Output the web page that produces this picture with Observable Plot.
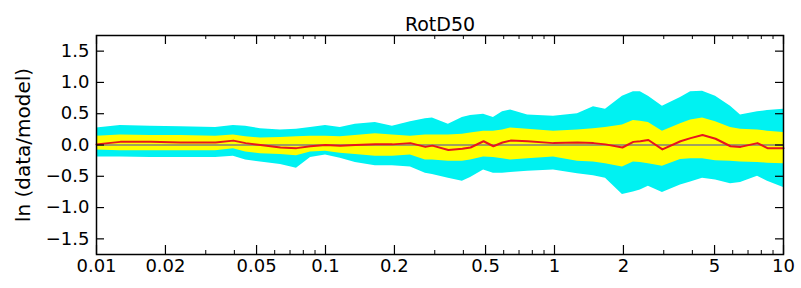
<!DOCTYPE html>
<html>
<head>
<meta charset="utf-8">
<script src="https://cdn.jsdelivr.net/npm/d3@7"></script>
<script src="https://cdn.jsdelivr.net/npm/@observablehq/plot@0.6"></script>
<style>
  html, body { margin: 0; padding: 0; background: #fff; }
  #chart svg { display: block; }
</style>
</head>
<body>
<div id="chart"></div>
<script>
// Period (s)
const period = [0.01, 0.0127, 0.0172, 0.0233, 0.0331, 0.0396, 0.0448, 0.052, 0.0636, 0.0747,
  0.086, 0.1, 0.116, 0.135, 0.165, 0.196, 0.235, 0.273, 0.293, 0.344,
  0.396, 0.43, 0.49, 0.541, 0.593, 0.643, 0.763, 0.99, 1.26, 1.48,
  1.67, 1.98, 2.21, 2.37, 2.57, 2.96, 3.55, 3.93, 4.43, 5.05,
  5.87, 6.49, 7.70, 8.51, 10];
// outer (cyan) band
const cyanTop = [0.27, 0.31, 0.30, 0.29, 0.28, 0.31, 0.30, 0.26, 0.24, 0.25,
  0.28, 0.31, 0.28, 0.33, 0.36, 0.30, 0.37, 0.42, 0.43, 0.33,
  0.44, 0.47, 0.49, 0.44, 0.53, 0.56, 0.48, 0.46, 0.50, 0.61,
  0.57, 0.78, 0.85, 0.85, 0.78, 0.62, 0.76, 0.85, 0.86, 0.78,
  0.62, 0.48, 0.53, 0.55, 0.57];
const cyanBottom = [-0.19, -0.19, -0.20, -0.20, -0.20, -0.18, -0.24, -0.27, -0.31, -0.37,
  -0.20, -0.16, -0.21, -0.28, -0.33, -0.33, -0.35, -0.45, -0.47, -0.53,
  -0.58, -0.52, -0.40, -0.45, -0.45, -0.44, -0.42, -0.40, -0.46, -0.49,
  -0.53, -0.79, -0.75, -0.72, -0.66, -0.76, -0.64, -0.59, -0.53, -0.56,
  -0.62, -0.60, -0.50, -0.58, -0.68];
// inner (yellow) band
const yellowTop = [0.14, 0.16, 0.15, 0.15, 0.14, 0.16, 0.13, 0.11, 0.12, 0.13,
  0.14, 0.14, 0.13, 0.15, 0.18, 0.16, 0.14, 0.16, 0.16, 0.16,
  0.17, 0.19, 0.22, 0.22, 0.24, 0.27, 0.25, 0.22, 0.24, 0.26,
  0.28, 0.32, 0.39, 0.38, 0.36, 0.22, 0.34, 0.40, 0.43, 0.37,
  0.28, 0.25, 0.24, 0.22, 0.20];
const yellowBottom = [-0.08, -0.09, -0.09, -0.09, -0.09, -0.06, -0.11, -0.14, -0.15, -0.17,
  -0.11, -0.10, -0.13, -0.15, -0.18, -0.18, -0.16, -0.24, -0.24, -0.26,
  -0.26, -0.24, -0.19, -0.20, -0.22, -0.24, -0.22, -0.19, -0.26, -0.27,
  -0.30, -0.35, -0.27, -0.28, -0.30, -0.34, -0.23, -0.22, -0.22, -0.25,
  -0.26, -0.27, -0.28, -0.29, -0.30];
// mean residual (red)
const meanResidual = [0.01, 0.05, 0.05, 0.04, 0.04, 0.07, 0.03, 0.00, -0.04, -0.05,
  -0.02, 0.00, -0.01, 0.00, 0.01, 0.01, 0.03, -0.03, -0.01, -0.08,
  -0.06, -0.04, 0.06, -0.02, 0.04, 0.07, 0.06, 0.03, 0.04, 0.03,
  0.01, -0.04, 0.05, 0.06, 0.08, -0.07, 0.06, 0.11, 0.16, 0.10,
  -0.02, -0.03, 0.03, -0.05, -0.05];

const xTickValues = [0.01, 0.02, 0.05, 0.1, 0.2, 0.5, 1, 2, 5, 10];
const xTickLabels = ["0.01", "0.02", "0.05", "0.1", "0.2", "0.5", "1", "2", "5", "10"];
const xMinorTicks = [0.03, 0.04, 0.06, 0.07, 0.08, 0.09, 0.3, 0.4, 0.6, 0.7, 0.8, 0.9, 3, 4, 6, 7, 8, 9];
const yTickValues = [-1.5, -1.0, -0.5, 0.0, 0.5, 1.0, 1.5];
const titleText = "RotD50";
const yLabelText = "ln (data/model)";

const data = period.map((p, i) => ({
  p, ct: cyanTop[i], cb: cyanBottom[i], yt: yellowTop[i], yb: yellowBottom[i], m: meanResidual[i]
}));
const xTicks = xTickValues.map((v, i) => ({ v, label: xTickLabels[i] }));

const W = 801, H = 288, mt = 35, mb = 34, ml = 96, mr = 18;
const ph = H - mt - mb, pw = W - ml - mr;
const fmtY = d => (d < 0 ? "\u2212" : "") + Math.abs(d).toFixed(1);

const chart = Plot.plot({
  width: W, height: H,
  marginTop: mt, marginBottom: mb, marginLeft: ml, marginRight: mr,
  style: { fontFamily: "DejaVu Sans", background: "white" },
  x: { type: "log", domain: [0.01, 10], axis: null },
  y: { domain: [-1.75, 1.75] },
  marks: [
    Plot.areaY(data, { x: "p", y1: "cb", y2: "ct", fill: "#00f2f2", curve: "linear" }),
    Plot.areaY(data, { x: "p", y1: "yb", y2: "yt", fill: "#ffff00", curve: "linear" }),
    Plot.ruleY([0], { stroke: "#808080", strokeWidth: 1.6 }),
    Plot.lineY(data, { x: "p", y: "m", stroke: "#e8141c", strokeWidth: 2 }),
    // inward ticks: bottom and top
    Plot.ruleX(xTickValues, { x: d => d, insetTop: ph - 9, stroke: "black", strokeWidth: 1.2 }),
    Plot.ruleX(xTickValues, { x: d => d, insetBottom: ph - 9, stroke: "black", strokeWidth: 1.2 }),
    Plot.ruleX(xMinorTicks, { x: d => d, insetTop: ph - 4, stroke: "black", strokeWidth: 1 }),
    Plot.ruleX(xMinorTicks, { x: d => d, insetBottom: ph - 4, stroke: "black", strokeWidth: 1 }),
    // inward ticks: left and right
    Plot.ruleY(yTickValues, { y: d => d, insetRight: pw - 8, stroke: "black", strokeWidth: 1.2 }),
    Plot.ruleY(yTickValues, { y: d => d, insetLeft: pw - 8, stroke: "black", strokeWidth: 1.2 }),
    Plot.frame({ stroke: "black", strokeWidth: 1.5 }),
    Plot.text(xTicks, { x: "v", text: "label", frameAnchor: "bottom", lineAnchor: "top", dy: 5, fontSize: 18, fill: "black" }),
    Plot.axisY({ ticks: yTickValues, tickFormat: fmtY, tickSize: 0, tickPadding: 7, fontSize: 18, label: null }),
    Plot.text([titleText], { frameAnchor: "top", dy: -18, fontSize: 19, fill: "black", text: d => d }),
    Plot.text([yLabelText], { frameAnchor: "left", dx: -73, rotate: -90, textAnchor: "middle", fontSize: 20, fill: "black", text: d => d })
  ]
});
document.getElementById("chart").appendChild(chart);
</script>
</body>
</html>
